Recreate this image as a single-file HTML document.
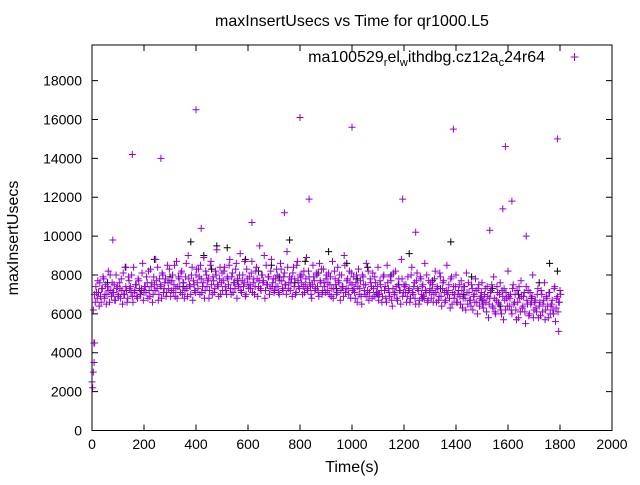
<!DOCTYPE html>
<html><head><meta charset="utf-8"><style>
body{margin:0;background:#fff}
svg text{font-family:"Liberation Sans",sans-serif;font-size:14px;fill:#000}
svg text.big{font-size:16px}
</style></head><body>
<svg id="chart" width="640" height="480" xmlns="http://www.w3.org/2000/svg">
<rect width="640" height="480" fill="#fff"/>
<text class="big" x="352" y="26" text-anchor="middle">maxInsertUsecs vs Time for qr1000.L5</text>
<text class="big" transform="translate(18,238) rotate(-90)" text-anchor="middle">maxInsertUsecs</text>
<text class="big" x="352" y="472" text-anchor="middle">Time(s)</text>
<g id="axes"></g>
<g id="marks"></g>
<rect x="92" y="45" width="520" height="385.5" fill="none" stroke="#000" stroke-width="1"/>
<text class="big" x="545" y="62" text-anchor="end">ma100529<tspan font-size="11" dy="4">r</tspan><tspan dy="-4">el</tspan><tspan font-size="11" dy="4">w</tspan><tspan dy="-4">ithdbg.cz12a</tspan><tspan font-size="11" dy="4">c</tspan><tspan dy="-4">24r64</tspan></text>
<path d="M570.5 57h8M574.5 53v8" stroke="#9400d3" stroke-width="1"/>
</svg>
<script>
const xTicks=[0,200,400,600,800,1000,1200,1400,1600,1800,2000];
const yTicks=[0,2000,4000,6000,8000,10000,12000,14000,16000,18000];
const sampleStep=5;
const mainValues=[25,62,70,74,68,71,76,66,73,78,70,65,74,72,80,69,71,75,67,73,70,
76,68,72,81,70,74,66,79,73,71,69,84,72,75,68,77,70,73,86,71,
74,79,68,72,83,76,70,75,88,73,67,78,74,81,71,76,69,85,73,77,
72,80,75,69,87,74,78,71,82,76,68,79,73,90,75,70,84,77,72,80,
76,83,70,78,74,89,72,80,77,68,85,75,79,71,82,93,74,78,70,81,
77,84,72,79,75,88,70,81,76,73,86,78,74,91,71,80,76,69,83,75,
79,73,87,76,70,82,78,74,95,72,80,77,68,85,75,79,73,88,76,71,
78,83,74,70,86,77,72,81,75,92,73,79,76,69,84,78,71,87,74,80,
76,70,82,75,89,72,79,74,68,85,77,73,80,71,86,76,70,83,74,78,
72,81,75,69,87,73,78,70,84,76,67,80,74,90,71,77,73,82,68,75,
79,71,76,66,83,73,69,80,75,70,86,72,67,78,74,81,69,76,71,84,
70,75,66,79,72,68,85,73,69,77,64,81,71,74,67,78,72,88,69,75,
71,66,79,73,68,84,70,76,65,81,72,67,78,74,69,86,71,66,77,73,
68,75,70,82,66,73,69,79,64,76,71,67,85,72,68,78,65,74,70,80,
66,72,69,77,63,74,68,81,65,71,67,75,62,70,78,66,73,64,69,76,
63,70,66,74,58,68,72,64,79,61,67,71,65,76,60,69,73,62,68,82,
64,70,60,75,66,62,72,58,68,77,63,69,61,74,65,59,71,66,80,62,
67,61,73,64,59,70,65,76,62,68,58,71,64,67,60,74,63,69,66,72];
const mainValues2=[22,45,66,71,77,64,69,73,79,68,75,70,82,66,72,76,71,67,80,74,69,
73,78,65,70,84,72,68,77,74,80,66,71,75,69,78,73,70,81,67,74,
71,76,82,69,74,66,79,72,77,84,70,75,68,80,73,78,71,76,83,69,
77,71,85,73,68,79,74,81,70,76,72,86,69,78,74,80,67,75,71,83,
73,79,85,71,76,68,82,74,78,72,87,70,77,73,80,75,69,84,76,72,
82,74,70,78,85,73,79,71,76,83,68,75,80,72,77,74,87,70,78,73,
75,81,71,78,74,84,69,77,73,80,76,90,72,75,79,70,82,74,78,72,
74,80,71,77,83,73,79,75,70,84,76,72,78,81,74,70,85,77,73,79,
80,74,71,78,73,82,76,70,75,79,72,81,74,69,77,83,72,76,71,80,
76,70,79,73,68,82,75,71,77,80,72,74,69,85,73,78,70,76,81,72,
73,68,80,74,70,77,65,79,72,75,69,82,71,76,68,73,79,70,74,67,
77,72,69,80,74,66,76,71,79,67,73,70,82,68,75,72,65,78,71,74,
75,69,72,66,80,71,74,68,77,73,65,79,70,75,68,72,80,67,71,76,
72,66,78,71,74,67,81,69,73,77,66,72,70,75,63,79,71,68,74,66,
70,75,65,72,68,74,62,71,76,67,64,73,69,66,72,60,75,68,71,65,
67,73,61,69,65,71,75,63,68,60,74,66,70,62,72,57,67,71,64,69,
68,62,73,65,70,57,66,74,61,69,64,71,55,67,72,60,65,69,58,66,
63,70,58,66,72,61,67,57,69,64,71,60,65,62,73,56,68,61,66,70];
const outlierTimes=[5,8,10,80,155,265,400,420,615,740,800,835,1000,1195,1245,1390,1530,1580,1590,1615,1670,1790,1795];
const outlierValues=[30,35,45,98,142,140,165,104,107,112,161,119,156,119,102,155,103,114,146,118,100,150,51];
const blackTimes=[60,130,190,240,300,350,380,430,460,480,520,560,590,640,690,720,760,780,820,870,910,940,980,1020,1060,1100,1150,1180,1220,1270,1310,1340,1380,1430,1460,1500,1540,1570,1640,1690,1720,1760,1790];
const blackValues=[76,84,72,88,79,74,97,90,83,95,94,77,88,82,85,79,98,76,87,81,92,73,86,78,84,70,80,75,91,68,77,73,97,70,79,67,73,64,70,68,76,86,82];

const X=v=>92+v*520/2000;
const Y=v=>430.5-v*19.44/1000;
const NS="http://www.w3.org/2000/svg";
const axes=document.getElementById('axes'), marks=document.getElementById('marks');
function mk(tag,attrs,parent){const e=document.createElementNS(NS,tag);for(const k in attrs)e.setAttribute(k,attrs[k]);parent.appendChild(e);return e;}
xTicks.forEach(t=>{const x=X(t);
 const p=mk('path',{d:`M${x} 430.5v-6M${x} 45v6`,stroke:'#000','stroke-width':1},axes);
 
 
 const l=mk('text',{x:x,y:449,'text-anchor':'middle'},axes);l.textContent=t;
 
 
});
yTicks.forEach(t=>{const y=Y(t);
 const p=mk('path',{d:`M92 ${y}h6M612 ${y}h-6`,stroke:'#000','stroke-width':1},axes);
 
 
 const l=mk('text',{x:82,y:y+5,'text-anchor':'end'},axes);l.textContent=t;
 
 
});
function plus(t,v,color){const x=X(t),y=Y(v);
 const p=mk('path',{d:`M${x-3.5} ${y}h7M${x} ${y-3.5}v7`,stroke:color,'stroke-width':1},marks);
 
 
}
blackValues.forEach((v,i)=>plus(blackTimes[i],v*100,'#000'));
mainValues.forEach((v,i)=>plus(i*sampleStep,v*100,'#9400d3'));
mainValues2.forEach((v,i)=>plus(i*sampleStep+2.5,v*100,'#9400d3'));
outlierValues.forEach((v,i)=>plus(outlierTimes[i],v*100,'#9400d3'));
</script>
</body></html>
